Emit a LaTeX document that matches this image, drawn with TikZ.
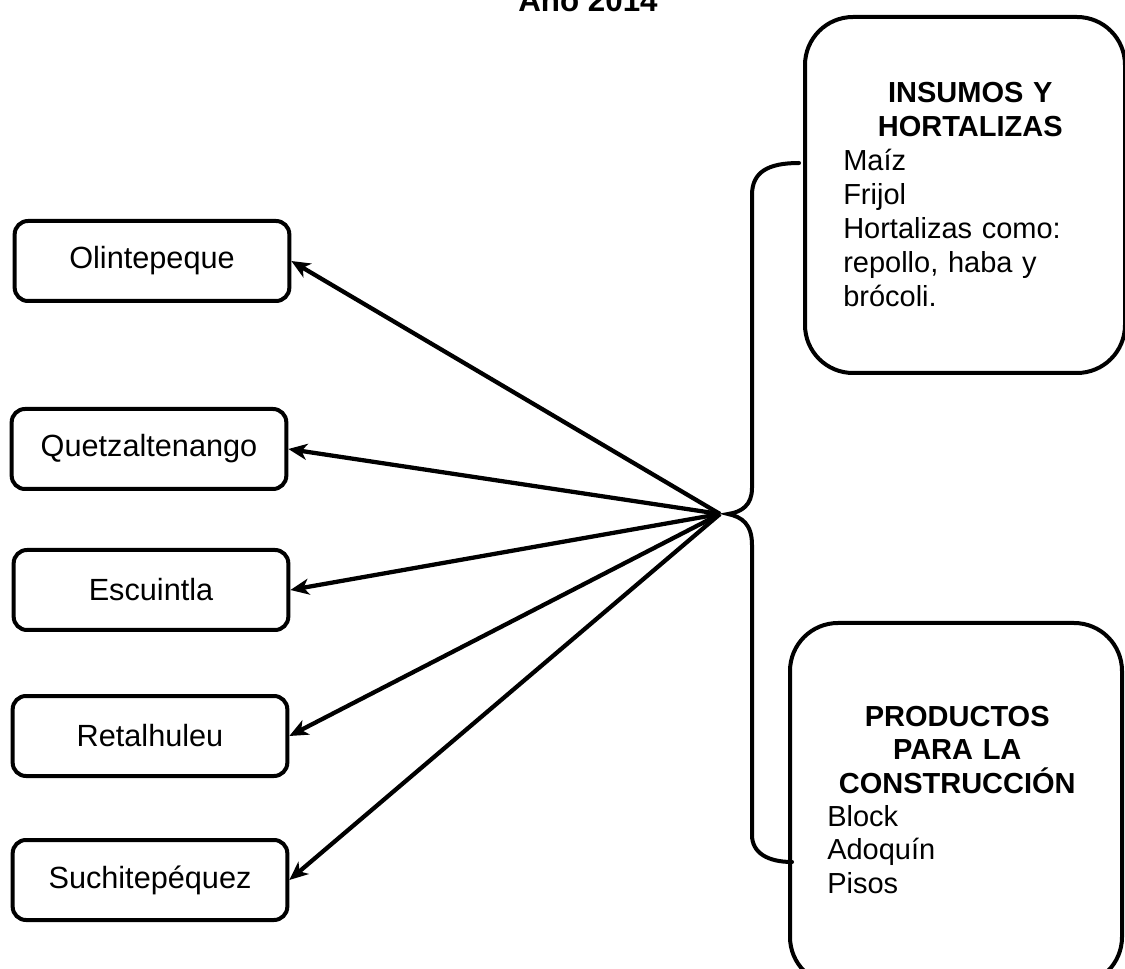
\documentclass[tikz,border=0pt]{standalone}
\usepackage{fontspec}
\setmainfont{Liberation Sans}
\usetikzlibrary{arrows.meta}
\begin{document}
\begin{tikzpicture}[x=0.75pt,y=-0.75pt,
  city/.style={draw, line width=3pt, rounded corners=10pt, minimum width=206pt, minimum height=60pt, inner sep=0pt, font=\fontsize{23}{26}\selectfont},
  bigbox/.style={draw, line width=3pt, rounded corners=36pt, inner sep=0pt},
  boxtext/.style={anchor=north west, inner sep=0pt, align=left},
  arr/.style={line width=3.2pt, -{Stealth[length=14pt,width=12pt,inset=4pt]}},
  bracestyle/.style={line width=3pt, line cap=round}]
\useasboundingbox (0,0) rectangle (1125,969);
% title (cut at top)
\node[font=\bfseries\fontsize{23.5}{28}\selectfont, anchor=base, inner sep=0pt] (title) at (588,12) {Año 2014};
% left boxes
\node[city] (olin) at (152,261) {Olintepeque};
\node[city] (quet) at (149,449) {Quetzaltenango};
\node[city] (escu) at (151,590) {Escuintla};
\node[city] (reta) at (150,736) {Retalhuleu};
\node[city] (such) at (150,880) {Suchitepéquez};
% right boxes
\node[bigbox, minimum width=240pt, minimum height=267pt] (ins) at (965,195) {};
\node[bigbox, minimum width=249pt, minimum height=271.5pt] (prod) at (956,804) {};
\node[boxtext, text width=190.5pt, font=\fontsize{21.75}{25.5}\selectfont] (instext) at (843,82)
  {{\centering\bfseries INSUMOS Y\\HORTALIZAS\par}Maíz\\Frijol\\Hortalizas como:\\repollo, haba y\\brócoli.};
\node[boxtext, text width=195pt, font=\fontsize{21.75}{25}\selectfont] (prodtext) at (827,706)
  {{\centering\bfseries PRODUCTOS\\PARA LA\\CONSTRUCCIÓN\par}Block\\Adoquín\\Pisos};
% brace
\coordinate (hub) at (720,514);
\coordinate (tip) at (728,514);
\coordinate (btop) at (799,163);
\coordinate (bbot) at (792,862);
\draw[bracestyle] (btop) .. controls (768,163) and (752,172) .. (752,195) -- (752,488)
  .. controls (752,505) and (742,512) .. (tip)
  .. controls (742,517) and (752,524) .. (752,545) -- (752,835)
  .. controls (752,853) and (768,862) .. (bbot);
% arrows
\draw[arr] (hub) -- (olin.east);
\draw[arr] (hub) -- (quet.east);
\draw[arr] (hub) -- (escu.east);
\draw[arr] (hub) -- (reta.east);
\draw[arr] (hub) -- (such.east);
\end{tikzpicture}
\end{document}
